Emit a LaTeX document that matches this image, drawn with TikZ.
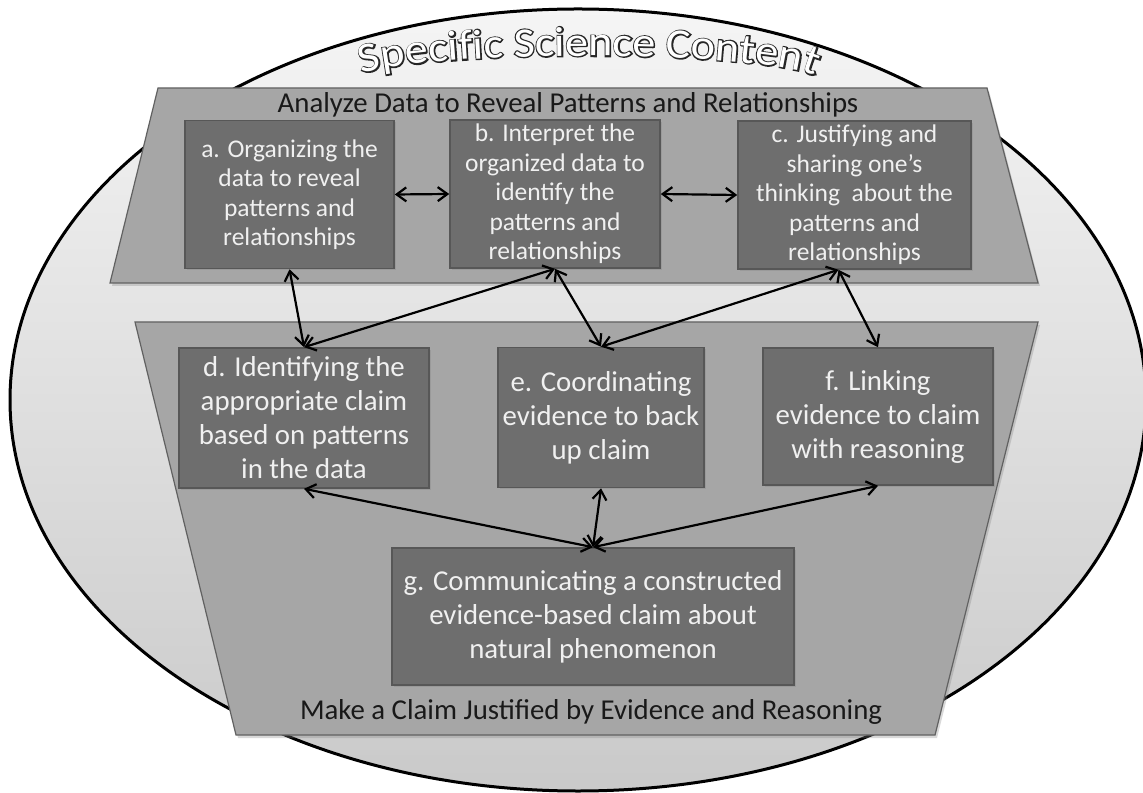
\documentclass[tikz,border=0pt]{standalone}
\usepackage{fontspec}
\setmainfont{Carlito}
\newfontfamily\titlefam[FakeStretch=1.1]{Carlito}
\newfontfamily\titlebold[FakeStretch=1.1, FakeBold=6]{Carlito}
\usetikzlibrary{arrows.meta,shadows,decorations.text}

\newcommand\titleedge{\titlebold\fontsize{21}{23}\selectfont\color{black!85}}
\newcommand\titleface{\titlefam\fontsize{21}{23}\selectfont\color{white}}

\begin{document}
\begin{tikzpicture}[x=0.5pt, y=0.5pt,
    oval/.style={draw=black, line width=1.5pt, top color=black!4, bottom color=black!21},
    tray/.style={draw=black!62, line width=0.6pt, fill=black!35,
        drop shadow={shadow xshift=1pt, shadow yshift=-1.5pt, opacity=0.3}},
    heading/.style={font=\fontsize{14.4}{17}\selectfont, text=black!90, inner sep=0pt},
    upbox/.style={draw=black!66, line width=0.8pt, fill=black!57, text=white!94!black,
        align=center, inner sep=0pt, minimum height=74pt, font=\fontsize{12.75}{14.75}\selectfont,
        drop shadow={shadow xshift=0.8pt, shadow yshift=-1pt, opacity=0.3}},
    lowbox/.style={upbox, minimum height=70pt, font=\fontsize{14.4}{17}\selectfont},
    link/.style={{Straight Barb[length=4.8pt,width=7pt]}-{Straight Barb[length=4.8pt,width=7pt]},
        line width=1.1pt, black}
  ]
  \useasboundingbox (0,0) rectangle (1143,792);

  \draw[oval] (578,392) ellipse [x radius=568, y radius=391];

  \path[decorate, decoration={text along path, text align=fit to path,
      text={|\titleedge|Specific Science Content}}]
    (586,711) ++(164:233 and 25)
    arc[start angle=164, end angle=14, x radius=233, y radius=25];
  \path[decorate, decoration={text along path, text align=fit to path,
      text={|\titleface|Specific Science Content}}]
    (586,711) ++(164:233 and 25)
    arc[start angle=164, end angle=14, x radius=233, y radius=25];

  \draw[tray] (158,704) -- (987,704) -- (1038,509) -- (110,509) -- cycle;
  \draw[tray] (135,470) -- (1038,470) -- (935,57) -- (236,57) -- cycle;

  \node[heading] (analyze) at (568,687) {Analyze Data to Reveal Patterns and Relationships};
  \node[heading] (claim) at (591,80) {Make a Claim Justified by Evidence and Reasoning};

  \node[upbox, minimum width=104.5pt] (a) at (289.5,597.5)
    {a. Organizing the\\data to reveal\\patterns and\\relationships};
  \node[upbox, minimum width=105pt] (b) at (555,598)
    {b. Interpret the\\organized data to\\identify the\\patterns and\\relationships};
  \node[upbox, minimum width=116.5pt] (c) at (854.5,597)
    {c. Justifying and\\sharing one’s\\thinking~ about the\\patterns and\\relationships};

  \node[lowbox, minimum width=125pt] (d) at (304,374)
    {d. Identifying the\\appropriate claim\\based on patterns\\in the data};
  \node[lowbox, minimum width=103pt] (e) at (601,374.5)
    {e. Coordinating\\evidence to back\\up claim};
  \node[lowbox, minimum width=115pt, minimum height=68.5pt] (f) at (878,375.5)
    {f. Linking\\evidence to claim\\with reasoning};
  \node[lowbox, minimum width=201pt, minimum height=68.5pt] (g) at (593,175.5)
    {g. Communicating a constructed\\evidence-based claim about\\natural phenomenon};

  \draw[link] (a.east) -- (b.west);
  \draw[link] (b.east) -- (c.west);

  \draw[link] (a.south) -- (d.north);
  \draw[link] (b.south) -- (d.north);
  \draw[link] (b.south) -- (e.north);
  \draw[link] ([xshift=-8pt]c.south) -- (e.north);
  \draw[link] ([xshift=-8pt]c.south) -- (f.north);

  \draw[link] (d.south) -- (g.north);
  \draw[link] (e.south) -- (g.north);
  \draw[link] (f.south) -- (g.north);
\end{tikzpicture}
\end{document}
